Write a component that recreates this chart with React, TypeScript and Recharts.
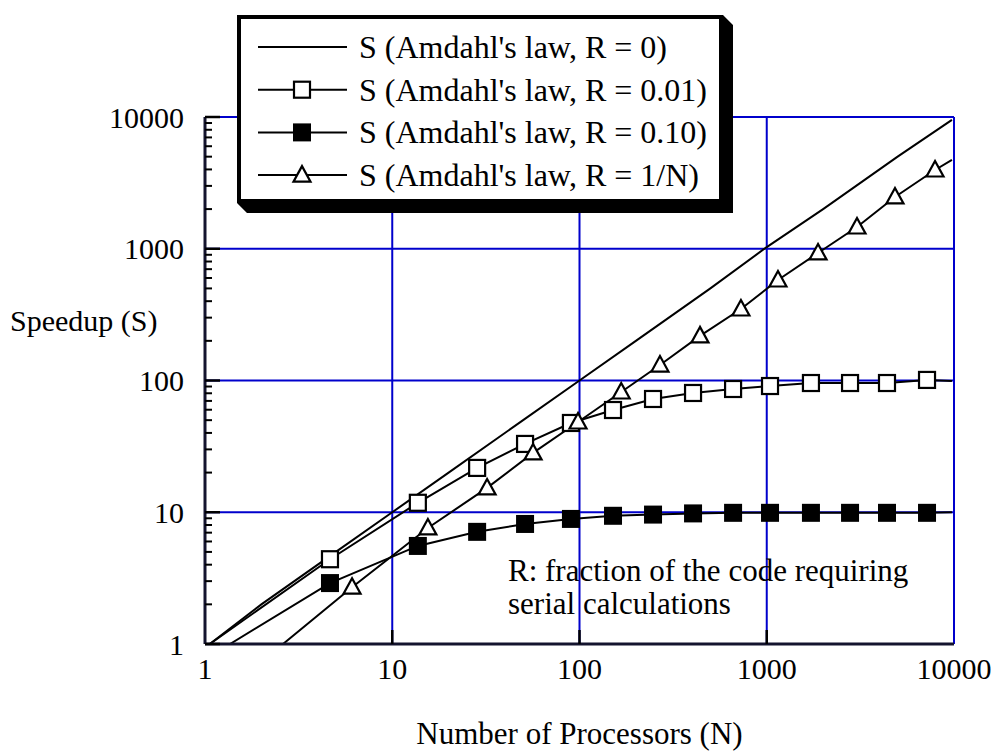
import {
  LineChart, Line, XAxis, YAxis, CartesianGrid, Legend, Customized, Label,
} from "recharts";

const FONT = '"Liberation Serif", "Times New Roman", Times, serif';

// N of the square markers (the R = 0.01 and R = 0.10 curves share them)
const nSquares = [4.65, 13.7, 28.4, 51.2, 90, 151, 247, 404, 661, 1041, 1722, 2785, 4387, 7177];
const sR001 = [4.4, 11.8, 21.7, 33, 47.6, 59.7, 72.4, 80.4, 86.2, 90.8, 95.7, 95.7, 95.7, 101];
const sR010 = [2.9, 5.55, 7.1, 8.15, 8.9, 9.4, 9.6, 9.8, 9.9, 9.9, 9.9, 9.9, 9.9, 9.9];

// triangle markers, R = 1/N
const nTriangles = [6.1, 15.5, 32.1, 56.5, 98.2, 167, 269, 440, 728, 1148, 1879, 3034, 4840, 7920];
const sR1N = [2.7, 7.6, 15.3, 28.2, 48.4, 81.8, 131, 218, 349, 579, 929, 1462, 2473, 3961];

// R = 0, no markers
const nIdeal = [1.06, 2, 5, 10, 20, 50, 100, 200, 500, 1000, 2000, 5000, 9750];
const sIdeal = [1, 2, 5, 10, 20, 50, 100, 200, 500, 1030, 2000, 5000, 9500];

// where the marked curves leave S = 1 and where they stop at the right edge
const startN = [1.06, 1.36, 2.61]; // R = 0.01, R = 0.10, R = 1/N
const endN = 9750;
const endS = [99, 10, 4720];

const majorTicks = [1, 10, 100, 1000, 10000];
const minorTicks = [1, 10, 100, 1000].flatMap((d) => [2, 3, 4, 5, 6, 7, 8, 9].map((m) => m * d));
const yTicks = [...majorTicks, ...minorTicks].sort((a, b) => a - b);
const xTickMarks = [10, 100, 1000]; // inward marks on the bottom axis

const legendRows = [
  { label: "S (Amdahl's law, R = 0)", marker: "none" },
  { label: "S (Amdahl's law, R = 0.01)", marker: "open" },
  { label: "S (Amdahl's law, R = 0.10)", marker: "filled" },
  { label: "S (Amdahl's law, R = 1/N)", marker: "triangle" },
];

type Pt = { n: number; s: number; mark?: boolean };

const idealData: Pt[] = nIdeal.map((n, i) => ({ n, s: sIdeal[i] }));
const r001Data: Pt[] = [
  { n: startN[0], s: 1 },
  ...nSquares.map((n, i) => ({ n, s: sR001[i], mark: true })),
  { n: endN, s: endS[0] },
];
const r010Data: Pt[] = [
  { n: startN[1], s: 1 },
  ...nSquares.map((n, i) => ({ n, s: sR010[i], mark: true })),
  { n: endN, s: endS[1] },
];
const r1nData: Pt[] = [
  { n: startN[2], s: 1 },
  ...nTriangles.map((n, i) => ({ n, s: sR1N[i], mark: true })),
  { n: endN, s: endS[2] },
];

function marker(kind: string, cx: number, cy: number, key?: string) {
  if (kind === "open")
    return <rect key={key} x={cx - 8} y={cy - 8} width={16} height={16} fill="#fff" stroke="#000" strokeWidth={2.2} />;
  if (kind === "filled")
    return <rect key={key} x={cx - 9} y={cy - 9} width={18} height={18} fill="#000" />;
  if (kind === "triangle")
    return (
      <polygon
        key={key}
        points={`${cx},${cy - 9} ${cx - 8.5},${cy + 6.5} ${cx + 8.5},${cy + 6.5}`}
        fill="#fff"
        stroke="#000"
        strokeWidth={2.2}
      />
    );
  return null;
}

const dotOf = (kind: string) => (p: any) =>
  p.payload?.mark ? marker(kind, p.cx, p.cy, `${kind}-${p.index}`) : <g key={`${kind}-${p.index}`} />;

const Y_GAP = 21; // label to axis line
const X_GAP = 14;

// labels on the decades, short inward marks on every tick
function YTick(props: any) {
  const x = Number(props.x);
  const y = Number(props.y);
  const v = Number(props.payload?.value);
  const major = majorTicks.includes(v);
  const ax = x + Y_GAP;
  return (
    <g>
      <path d={`M${ax},${y}H${ax + (major ? 15 : 7)}`} stroke="#000" strokeWidth={major ? 2.5 : 2} fill="none" />
      {major && (
        <text x={x} y={y} dy="0.35em" textAnchor="end" fontSize={30} fill="#000" fontFamily={FONT}>
          {v}
        </text>
      )}
    </g>
  );
}

function XTick(props: any) {
  const x = Number(props.x);
  const y = Number(props.y);
  const v = Number(props.payload?.value);
  const ay = y - X_GAP;
  return (
    <g>
      {xTickMarks.includes(v) && (
        <path d={`M${x},${ay}V${ay - 14}`} stroke="#000" strokeWidth={2.5} fill="none" />
      )}
      <text x={x} y={y} dy="0.71em" textAnchor="middle" fontSize={30} fill="#000" fontFamily={FONT}>
        {v}
      </text>
    </g>
  );
}

function LegendBox() {
  return (
    <svg width={498} height={200} style={{ display: "block", overflow: "visible" }}>
      <polygon points="0,188 486,188 486,0 496,10 496,198 10,198" fill="#000" />
      <rect x={2} y={2} width={482} height={184} fill="#fff" stroke="#000" strokeWidth={4} />
      {legendRows.map((r, i) => {
        const y = 32 + i * 42.7;
        return (
          <g key={r.label}>
            <line x1={21} x2={110} y1={y} y2={y} stroke="#000" strokeWidth={2} />
            {marker(r.marker, 65, y)}
            <text x={122} y={y + 11} fontSize={32} fill="#000" fontFamily={FONT}>
              {r.label}
            </text>
          </g>
        );
      })}
    </svg>
  );
}

function Note() {
  return (
    <text fontSize={31} fill="#000" fontFamily={FONT}>
      <tspan x={508} y={581}>R: fraction of the code requiring</tspan>
      <tspan x={508} y={614}>serial calculations</tspan>
    </text>
  );
}

const axisStroke = { stroke: "#14142e", strokeWidth: 3 };

export default function App() {
  return (
    <div style={{ position: "absolute", left: 0, top: 0, fontFamily: FONT, background: "#fff" }}>
      <LineChart width={998} height={756} margin={{ top: 117, right: 44, bottom: 0, left: 0 }}>
        <CartesianGrid stroke="#0000cc" strokeWidth={2} horizontalValues={majorTicks} />
        <XAxis
          type="number"
          dataKey="n"
          scale="log"
          domain={[1, 10000]}
          allowDataOverflow
          ticks={majorTicks}
          interval={0}
          height={112}
          tickSize={0}
          tickMargin={X_GAP}
          tickLine={false}
          axisLine={axisStroke}
          tick={<XTick />}
        >
          <Label
            value="Number of Processors (N)"
            position="insideBottom"
            offset={12}
            fontSize={31}
            fill="#000"
            fontFamily={FONT}
          />
        </XAxis>
        <YAxis
          type="number"
          scale="log"
          domain={[1, 10000]}
          allowDataOverflow
          ticks={yTicks}
          interval={0}
          width={205}
          tickSize={0}
          tickMargin={Y_GAP}
          tickLine={false}
          axisLine={axisStroke}
          tick={<YTick />}
        >
          <Label
            value="Speedup (S)"
            position="insideLeft"
            offset={10}
            dy={-60}
            fontSize={30}
            fill="#000"
            fontFamily={FONT}
          />
        </YAxis>
        <Line data={idealData} dataKey="s" stroke="#000" strokeWidth={2} dot={false} activeDot={false} isAnimationActive={false} />
        <Line data={r001Data} dataKey="s" stroke="#000" strokeWidth={2} dot={dotOf("open")} activeDot={false} isAnimationActive={false} />
        <Line data={r010Data} dataKey="s" stroke="#000" strokeWidth={2} dot={dotOf("filled")} activeDot={false} isAnimationActive={false} />
        <Line data={r1nData} dataKey="s" stroke="#000" strokeWidth={2} dot={dotOf("triangle")} activeDot={false} isAnimationActive={false} />
        <Legend
          layout="vertical"
          align="center"
          verticalAlign="middle"
          content={() => <LegendBox />}
          wrapperStyle={{ left: 237, top: 15, width: 498, height: 200 }}
        />
        <Customized component={Note} />
      </LineChart>
    </div>
  );
}
